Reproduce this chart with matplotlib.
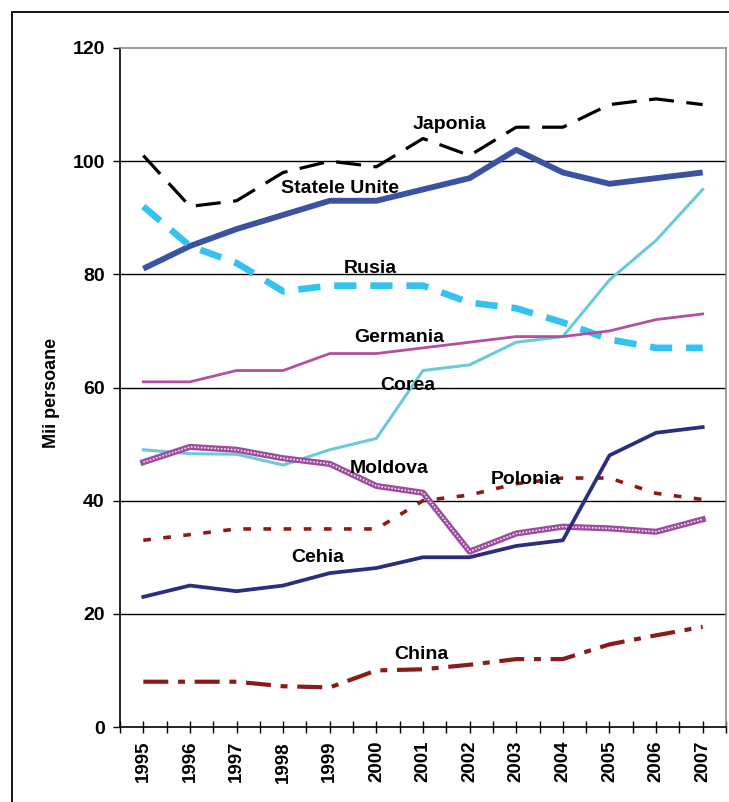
import numpy as np
import matplotlib
matplotlib.use("Agg")
import matplotlib.pyplot as plt
from matplotlib.patches import Rectangle

plt.rcParams['font.family'] = ['Liberation Sans', 'DejaVu Sans']
plt.rcParams['lines.scale_dashes'] = False

years = ['1995', '1996', '1997', '1998', '1999', '2000', '2001',
         '2002', '2003', '2004', '2005', '2006', '2007']

japonia = [101, 92, 93, 98, 100, 99, 104, 101, 106, 106, 110, 111, 110]
statele_unite = [81, 85, 88, 90.5, 93, 93, 95, 97, 102, 98, 96, 97, 98]
rusia = [92, 85, 82, 77, 78, 78, 78, 75, 74, 71.5, 68.5, 67, 67]
corea = [49, 48.3, 48.2, 46.3, 49, 51, 63, 64, 68, 69, 79, 86, 95]
germania = [61, 61, 63, 63, 66, 66, 67, 68, 69, 69, 70, 72, 73]
moldova = [46.8, 49.5, 49, 47.5, 46.5, 42.6, 41.4, 31, 34.2, 35.4, 35.1, 34.5, 36.7]
polonia = [33, 34, 35, 35, 35, 35, 40, 41, 43, 44, 44, 41.3, 40.2]
cehia = [23, 25, 24, 25, 27.2, 28.1, 30, 30, 32, 33, 48, 52, 53]
china = [8, 8, 8, 7.2, 7, 10, 10.2, 11, 12, 12, 14.6, 16.2, 17.7]

x = np.arange(len(years))

fig = plt.figure(figsize=(7.29, 8.02), dpi=100)
ax = fig.add_axes([120 / 729, 1 - 727 / 802, 606 / 729, 679 / 802])

# outer frame of the original picture (runs off right and bottom)
fig.patches.append(Rectangle((12 / 729, -0.1), 1.2, 1.1 - 12 / 802,
                             transform=fig.transFigure, fill=False,
                             edgecolor='black', linewidth=1.3, zorder=0))

ax.plot(x, japonia, color='black', lw=2.3, dashes=(18, 9))
ax.plot(x, statele_unite, color='#3B52A3', lw=4.2, solid_capstyle='butt')
ax.plot(x, rusia, color='#34C3F0', lw=4.8, dashes=(16, 10))
ax.plot(x, corea, color='#6CC9D8', lw=2.2)
ax.plot(x, germania, color='#B4509E', lw=2.0)
# Moldova: patterned purple line
ax.plot(x, moldova, color='#9B4C9E', lw=4.4)
ax.plot(x, moldova, color='#F4E6F4', lw=1.2, dashes=(1.2, 1.2))
ax.plot(x, polonia, color='#8B1A1A', lw=2.6, dashes=(5.5, 9))
ax.plot(x, cehia, color='#2B2E7E', lw=2.7)
ax.plot(x, china, color='#8B1A1A', lw=3.0, dashes=(18, 7, 5, 7))

label_kw = dict(fontsize=14, fontweight='bold', ha='center', va='center')
ax.text(6.56, 106.4, 'Japonia', **label_kw)
ax.text(4.22, 95.1, 'Statele Unite', **label_kw)
ax.text(4.87, 81.0, 'Rusia', **label_kw)
ax.text(5.5, 68.8, 'Germania', **label_kw)
ax.text(5.68, 60.3, 'Corea', **label_kw)
ax.text(5.27, 45.6, 'Moldova', **label_kw)
ax.text(8.21, 43.8, 'Polonia', **label_kw)
ax.text(3.75, 29.9, 'Cehia', **label_kw)
ax.text(5.97, 12.8, 'China', **label_kw)

ax.set_xlim(-0.5, len(years) - 0.5)
ax.set_ylim(0, 120)
ax.set_yticks(np.arange(0, 121, 20))
ax.set_yticklabels([str(v) for v in range(0, 121, 20)], fontsize=14, fontweight='bold')
ax.set_xticks(x)
ax.set_xticklabels(years, rotation=90, fontsize=13.5, fontweight='bold')
ax.set_xticks(np.arange(-0.5, len(years), 1.0), minor=True)
ax.tick_params(axis='x', which='both', direction='inout', length=8, width=1, pad=6)
ax.tick_params(axis='y', direction='out', length=5, width=1, pad=6)

for v in range(20, 120, 20):
    ax.axhline(v, color='black', lw=1.0, zorder=0.5)

ax.spines['left'].set_color('black')
ax.spines['bottom'].set_color('black')
ax.spines['top'].set_color('#8C8C8C')
ax.spines['right'].set_color('#8C8C8C')
for s in ax.spines.values():
    s.set_linewidth(1.2)

fig.text(52 / 729, 1 - 393 / 802, 'Mii persoane', rotation=90, ha='center', va='center',
         fontsize=13, fontweight='bold', family=['Liberation Sans Narrow', 'Liberation Sans'])

fig.savefig('out.png', dpi=100)
